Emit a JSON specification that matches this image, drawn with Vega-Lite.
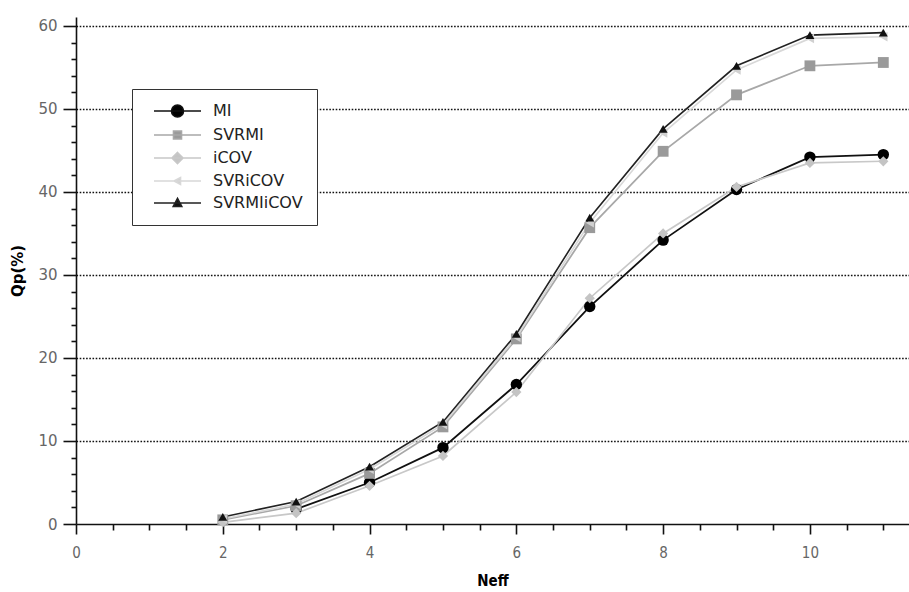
{
  "$schema": "https://vega.github.io/schema/vega-lite/v6.json",
  "width": 833,
  "height": 507,
  "autosize": {"type": "none"},
  "padding": {"left": 76, "top": 17, "right": 0, "bottom": 68},
  "background": "white",
  "config": {
    "view": {"stroke": null},
    "font": "DejaVu Sans"
  },
  "data": {
    "values": [
      {"series": "MI", "neff": 3, "qp": 1.8},
      {"series": "MI", "neff": 4, "qp": 5.0},
      {"series": "MI", "neff": 5, "qp": 9.2},
      {"series": "MI", "neff": 6, "qp": 16.8},
      {"series": "MI", "neff": 7, "qp": 26.2},
      {"series": "MI", "neff": 8, "qp": 34.2},
      {"series": "MI", "neff": 9, "qp": 40.3},
      {"series": "MI", "neff": 10, "qp": 44.2},
      {"series": "MI", "neff": 11, "qp": 44.5},
      {"series": "SVRMI", "neff": 2, "qp": 0.5},
      {"series": "SVRMI", "neff": 3, "qp": 2.2},
      {"series": "SVRMI", "neff": 4, "qp": 6.1},
      {"series": "SVRMI", "neff": 5, "qp": 11.7},
      {"series": "SVRMI", "neff": 6, "qp": 22.3},
      {"series": "SVRMI", "neff": 7, "qp": 35.7},
      {"series": "SVRMI", "neff": 8, "qp": 44.9},
      {"series": "SVRMI", "neff": 9, "qp": 51.7},
      {"series": "SVRMI", "neff": 10, "qp": 55.2},
      {"series": "SVRMI", "neff": 11, "qp": 55.6},
      {"series": "iCOV", "neff": 2, "qp": 0.2},
      {"series": "iCOV", "neff": 3, "qp": 1.3},
      {"series": "iCOV", "neff": 4, "qp": 4.6},
      {"series": "iCOV", "neff": 5, "qp": 8.2},
      {"series": "iCOV", "neff": 6, "qp": 15.9},
      {"series": "iCOV", "neff": 7, "qp": 27.2},
      {"series": "iCOV", "neff": 8, "qp": 35.0},
      {"series": "iCOV", "neff": 9, "qp": 40.6},
      {"series": "iCOV", "neff": 10, "qp": 43.5},
      {"series": "iCOV", "neff": 11, "qp": 43.7},
      {"series": "SVRiCOV", "neff": 2, "qp": 0.6},
      {"series": "SVRiCOV", "neff": 3, "qp": 2.4},
      {"series": "SVRiCOV", "neff": 4, "qp": 6.6},
      {"series": "SVRiCOV", "neff": 5, "qp": 12.0},
      {"series": "SVRiCOV", "neff": 6, "qp": 22.5},
      {"series": "SVRiCOV", "neff": 7, "qp": 36.3},
      {"series": "SVRiCOV", "neff": 8, "qp": 47.1},
      {"series": "SVRiCOV", "neff": 9, "qp": 54.7},
      {"series": "SVRiCOV", "neff": 10, "qp": 58.5},
      {"series": "SVRiCOV", "neff": 11, "qp": 58.7},
      {"series": "SVRMIiCOV", "neff": 2, "qp": 0.85},
      {"series": "SVRMIiCOV", "neff": 3, "qp": 2.7},
      {"series": "SVRMIiCOV", "neff": 4, "qp": 6.9},
      {"series": "SVRMIiCOV", "neff": 5, "qp": 12.3},
      {"series": "SVRMIiCOV", "neff": 6, "qp": 22.9},
      {"series": "SVRMIiCOV", "neff": 7, "qp": 36.9},
      {"series": "SVRMIiCOV", "neff": 8, "qp": 47.6},
      {"series": "SVRMIiCOV", "neff": 9, "qp": 55.2},
      {"series": "SVRMIiCOV", "neff": 10, "qp": 58.9},
      {"series": "SVRMIiCOV", "neff": 11, "qp": 59.2}
    ]
  },
  "encoding": {
    "x": {
      "field": "neff", "type": "quantitative",
      "scale": {"domain": [0, 11.35], "nice": false, "zero": false},
      "axis": {
        "title": "Neff",
        "values": [0, 0.5, 1, 1.5, 2, 2.5, 3, 3.5, 4, 4.5, 5, 5.5, 6, 6.5, 7, 7.5, 8, 8.5, 9, 9.5, 10, 10.5, 11],
        "labelExpr": "datum.value % 2 === 0 ? format(datum.value, 'd') : ''",
        "labelOverlap": false,
        "labelBound": false,
        "labelFlush": false,
        "grid": false,
        "domainColor": "#111",
        "domainWidth": 1.6,
        "tickColor": "#111",
        "tickWidth": 1.6,
        "tickSize": {"condition": {"test": "datum.value % 2 === 0", "value": 10}, "value": 6},
        "labelFont": "DejaVu Sans Condensed, DejaVu Sans",
        "labelFontSize": 15,
        "labelColor": "#666",
        "labelPadding": 11,
        "titleFont": "DejaVu Sans Condensed, DejaVu Sans",
        "titleFontSize": 15,
        "titleFontWeight": "bold",
        "titleColor": "#000",
        "titlePadding": 13
      }
    },
    "y": {
      "field": "qp", "type": "quantitative",
      "scale": {"domain": [0, 61.08], "nice": false},
      "axis": {
        "title": "Qp(%)",
        "values": [0, 2, 4, 6, 8, 10, 12, 14, 16, 18, 20, 22, 24, 26, 28, 30, 32, 34, 36, 38, 40, 42, 44, 46, 48, 50, 52, 54, 56, 58, 60],
        "labelExpr": "datum.value % 10 === 0 ? datum.label : ''",
        "labelOverlap": false,
        "labelBound": false,
        "grid": true,
        "gridColor": "#111",
        "gridDash": [1.6, 1.6],
        "gridWidth": 1.6,
        "gridOpacity": {"condition": {"test": "datum.value % 10 === 0 && datum.value > 0", "value": 1}, "value": 0},
        "domainColor": "#111",
        "domainWidth": 1.6,
        "tickColor": "#111",
        "tickWidth": 1.6,
        "tickSize": {"condition": {"test": "datum.value % 10 === 0", "value": 13}, "value": 5},
        "labelFontSize": 15,
        "labelColor": "#666",
        "labelPadding": 6,
        "titleFontSize": 15,
        "titleFontWeight": "bold",
        "titleColor": "#000",
        "titlePadding": 12
      }
    }
  },
  "layer": [
    {
      "mark": {"type": "line"},
      "encoding": {
        "stroke": {
          "field": "series", "type": "nominal",
          "scale": {"domain": ["MI", "SVRMI", "iCOV", "SVRiCOV", "SVRMIiCOV"], "range": ["#111111", "#a8a8a8", "#c8c8c8", "#d8d8d8", "#222222"]},
          "legend": null
        },
        "strokeWidth": {
          "field": "series", "type": "nominal",
          "scale": {"domain": ["MI", "SVRMI", "iCOV", "SVRiCOV", "SVRMIiCOV"], "range": [1.8, 1.6, 2.6, 2.2, 1.8]},
          "legend": null
        }
      }
    },
    {
      "mark": {"type": "point", "filled": true, "opacity": 1},
      "encoding": {
        "shape": {
          "field": "series", "type": "nominal",
          "scale": {"domain": ["MI", "SVRMI", "iCOV", "SVRiCOV", "SVRMIiCOV"], "range": ["circle", "square", "diamond", "triangle-left", "triangle-up"]},
          "legend": null
        },
        "fill": {
          "field": "series", "type": "nominal",
          "scale": {"domain": ["MI", "SVRMI", "iCOV", "SVRiCOV", "SVRMIiCOV"], "range": ["#000000", "#9a9a9a", "#c4c4c4", "#d0d0d0", "#111111"]},
          "legend": null
        },
        "size": {
          "field": "series", "type": "nominal",
          "scale": {"domain": ["MI", "SVRMI", "iCOV", "SVRiCOV", "SVRMIiCOV"], "range": [130, 80, 120, 45, 55]},
          "legend": null
        }
      }
    },
    {
      "transform": [{"filter": "false"}],
      "mark": {"type": "point", "filled": true, "opacity": 1},
      "encoding": {
        "shape": {
          "field": "series", "type": "nominal",
          "scale": {
            "domain": ["MI", "SVRMI", "iCOV", "SVRiCOV", "SVRMIiCOV"],
            "range": [
              "M0,0H9.4M5.9,0A1.2,1.2,0,1,1,3.5,0A1.2,1.2,0,1,1,5.9,0Z",
              "M0,0H9.4M3.9,-0.8H5.5V0.8H3.9Z",
              "M0,0H9.4M4.7,-1.1L5.8,0L4.7,1.1L3.6,0Z",
              "M0,0H9.4M4.0,0L5.3,-0.7L5.3,0.7Z",
              "M0,0H9.4M4.7,-0.9L5.55,0.7L3.85,0.7Z"
            ]
          },
          "legend": {
            "title": null,
            "orient": "none",
            "legendX": 56,
            "legendY": 72,
            "padding": 14,
            "strokeColor": "#333",
            "fillColor": "white",
            "symbolSize": 100,
            "symbolStrokeWidth": 1.6,
            "labelOffset": 51,
            "labelFontSize": 16,
            "labelColor": "#222",
            "rowPadding": 6,
            "labelLimit": 200,
            "encode": {"legend": {"update": {"strokeWidth": {"value": 1.5}}}}
          }
        },
        "fill": {
          "field": "series", "type": "nominal",
          "scale": {"domain": ["MI", "SVRMI", "iCOV", "SVRiCOV", "SVRMIiCOV"], "range": ["#000000", "#9a9a9a", "#c4c4c4", "#d0d0d0", "#111111"]}
        },
        "stroke": {
          "field": "series", "type": "nominal",
          "scale": {"domain": ["MI", "SVRMI", "iCOV", "SVRiCOV", "SVRMIiCOV"], "range": ["#111111", "#a8a8a8", "#c8c8c8", "#d8d8d8", "#222222"]}
        }
      }
    }
  ],
  "resolve": {
    "scale": {"shape": "independent", "fill": "independent", "stroke": "independent", "size": "independent", "strokeWidth": "independent"},
    "legend": {"shape": "independent", "fill": "independent", "stroke": "independent"}
  }
}
